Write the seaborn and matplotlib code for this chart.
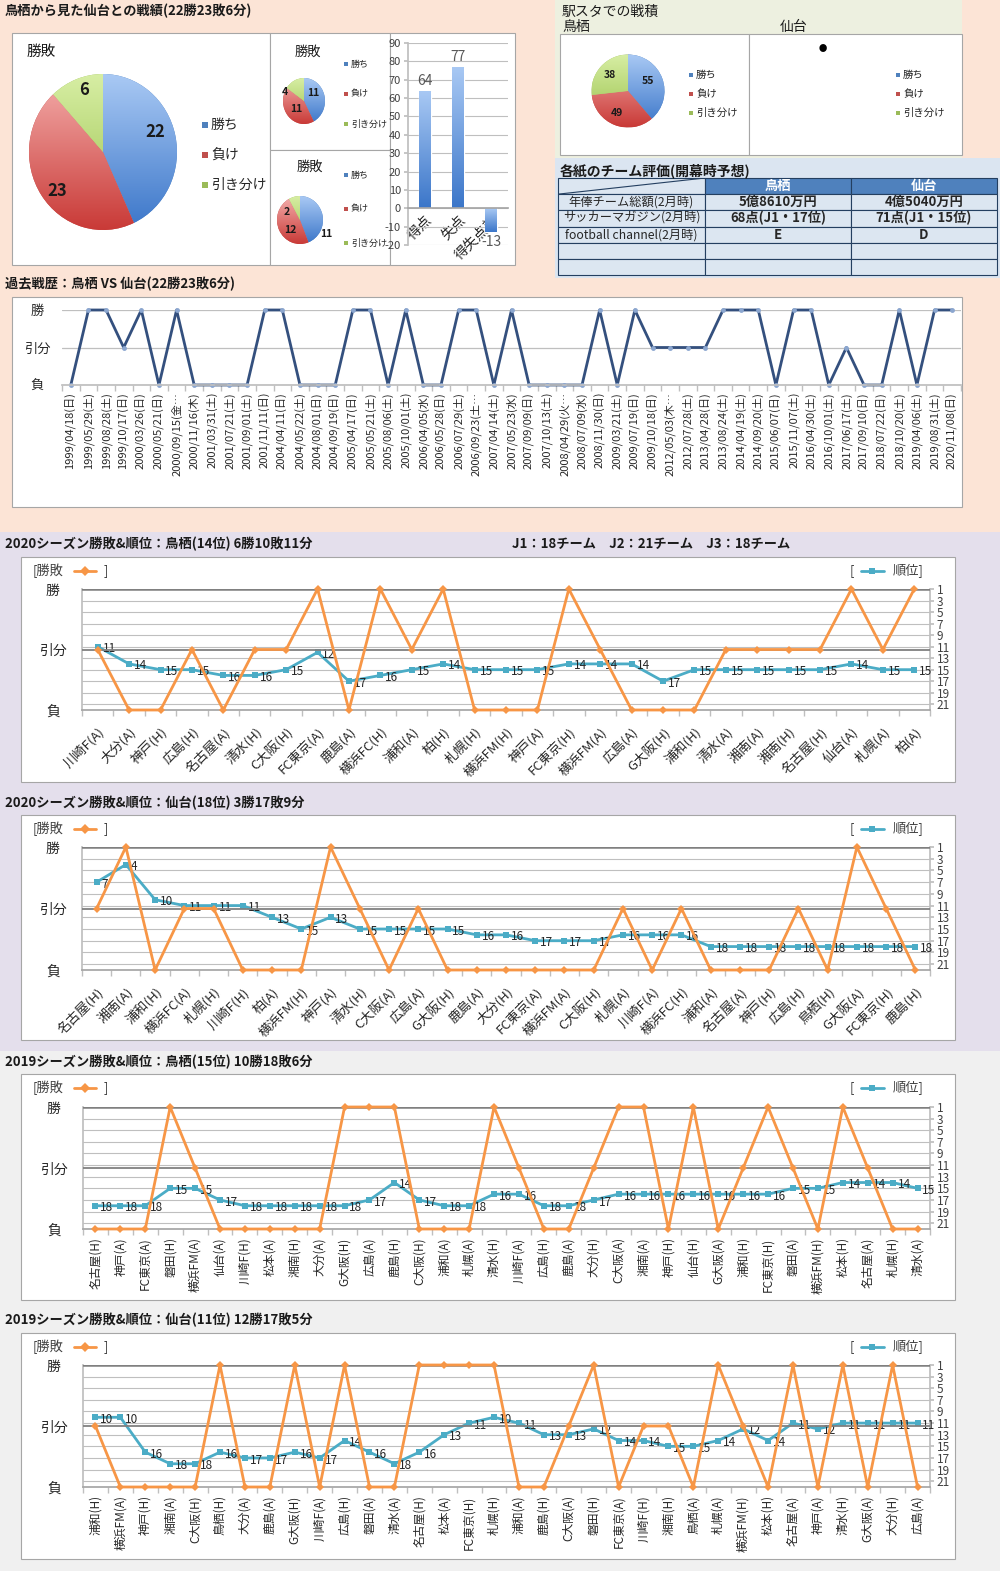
import numpy as np
import pandas as pd
import matplotlib
matplotlib.use("Agg")
import matplotlib.pyplot as plt
import seaborn as sns
from matplotlib.patches import Rectangle
from matplotlib.lines import Line2D
from matplotlib.colors import LinearSegmentedColormap

sns.set_theme(style="white")
plt.rcParams["font.family"] = ["Noto Sans CJK JP", "DejaVu Sans"]
plt.rcParams["axes.unicode_minus"] = False

W, H = 1000, 1571

# ---------------- data ----------------
wdl_labels = ["勝ち", "負け", "引き分け"]
h2h_total = [22, 23, 6]
h2h_home = [11, 11, 4]
h2h_away = [11, 12, 2]
station_tosu = [55, 49, 38]

goal_labels = ["得点", "失点", "得失点差"]
goal_values = [64, 77, -13]

table_cols = ["鳥栖", "仙台"]
table_rows = ["年俸チーム総額(2月時)", "サッカーマガジン(2月時)", "football channel(2月時)", "", ""]
table_tosu = ["5億8610万円", "68点(J1・17位)", "E", "", ""]
table_sendai = ["4億5040万円", "71点(J1・15位)", "D", "", ""]

# 1 = 勝, 0 = 引分, -1 = 負
hist_dates = [
    "1999/04/18(日)", "1999/05/29(土)", "1999/08/28(土)", "1999/10/17(日)", "2000/03/26(日)",
    "2000/05/21(日)", "2000/09/15(金…", "2000/11/16(木)", "2001/03/31(土)", "2001/07/21(土)",
    "2001/09/01(土)", "2001/11/11(日)", "2004/04/11(日)", "2004/05/22(土)", "2004/08/01(日)",
    "2004/09/19(日)", "2005/04/17(日)", "2005/05/21(土)", "2005/08/06(土)", "2005/10/01(土)",
    "2006/04/05(水)", "2006/05/28(日)", "2006/07/29(土)", "2006/09/23(土…", "2007/04/14(土)",
    "2007/05/23(水)", "2007/09/09(日)", "2007/10/13(土)", "2008/04/29(火…", "2008/07/09(水)",
    "2008/11/30(日)", "2009/03/21(土)", "2009/07/19(日)", "2009/10/18(日)", "2012/05/03(木…",
    "2012/07/28(土)", "2013/04/28(日)", "2013/08/24(土)", "2014/04/19(土)", "2014/09/20(土)",
    "2015/06/07(日)", "2015/11/07(土)", "2016/04/30(土)", "2016/10/01(土)", "2017/06/17(土)",
    "2017/09/10(日)", "2018/07/22(日)", "2018/10/20(土)", "2019/04/06(土)", "2019/08/31(土)",
    "2020/11/08(日)",
]
hist_res = [-1, 1, 1, 0, 1, -1, 1, -1, -1, -1, -1, 1, 1, -1, -1, -1, 1, 1, -1, 1, -1, -1, 1, 1, -1,
            1, -1, -1, -1, -1, 1, -1, 1, 0, 0, 0, 0, 1, 1, 1, -1, 1, 1, -1, 0, -1, -1, 1, -1, 1, 1]

t20_opp = ["川崎F(A)", "大分(A)", "神戸(H)", "広島(H)", "名古屋(A)", "清水(H)", "C大阪(H)", "FC東京(A)",
           "鹿島(A)", "横浜FC(H)", "浦和(A)", "柏(H)", "札幌(H)", "横浜FM(H)", "神戸(A)", "FC東京(H)",
           "横浜FM(A)", "広島(A)", "G大阪(H)", "浦和(H)", "清水(A)", "湘南(A)", "湘南(H)", "名古屋(H)",
           "仙台(A)", "札幌(A)", "柏(A)"]
t20_res = [0, -1, -1, 0, -1, 0, 0, 1, -1, 1, 0, 1, -1, -1, -1, 1, 0, -1, -1, -1, 0, 0, 0, 0, 1, 0, 1]
t20_rank = [11, 14, 15, 15, 16, 16, 15, 12, 17, 16, 15, 14, 15, 15, 15, 14, 14, 14, 17, 15, 15, 15, 15, 15, 14, 15, 15]

s20_opp = ["名古屋(H)", "湘南(A)", "浦和(H)", "横浜FC(A)", "札幌(H)", "川崎F(H)", "柏(A)", "横浜FM(H)",
           "神戸(A)", "清水(H)", "C大阪(A)", "広島(A)", "G大阪(H)", "鹿島(A)", "大分(H)", "FC東京(A)",
           "横浜FM(A)", "C大阪(H)", "札幌(A)", "川崎F(A)", "横浜FC(H)", "浦和(A)", "名古屋(A)", "神戸(H)",
           "広島(H)", "鳥栖(H)", "G大阪(A)", "FC東京(H)", "鹿島(H)"]
s20_res = [0, 1, -1, 0, 0, -1, -1, -1, 1, 0, -1, 0, -1, -1, -1, -1, -1, -1, 0, -1, 0, -1, -1, -1, 0, -1, 1, 0, -1]
s20_rank = [7, 4, 10, 11, 11, 11, 13, 15, 13, 15, 15, 15, 15, 16, 16, 17, 17, 17, 16, 16, 16, 18, 18, 18, 18, 18, 18, 18, 18]

t19_opp = ["名古屋(H)", "神戸(A)", "FC東京(A)", "磐田(H)", "横浜FM(A)", "仙台(A)", "川崎F(H)", "松本(A)",
           "湘南(H)", "大分(A)", "G大阪(H)", "広島(A)", "鹿島(H)", "C大阪(H)", "浦和(A)", "札幌(A)",
           "清水(H)", "川崎F(A)", "広島(H)", "鹿島(A)", "大分(H)", "C大阪(A)", "湘南(A)", "神戸(H)",
           "仙台(H)", "G大阪(A)", "浦和(H)", "FC東京(H)", "磐田(A)", "横浜FM(H)", "松本(H)", "名古屋(A)",
           "札幌(H)", "清水(A)"]
t19_res = [-1, -1, -1, 1, 0, -1, -1, -1, -1, -1, 1, 1, 1, -1, -1, -1, 1, 0, -1, -1, 0, 1, 1, -1, 1, -1, 0, 1, 0, -1, 1, 0, -1, -1]
t19_rank = [18, 18, 18, 15, 15, 17, 18, 18, 18, 18, 18, 17, 14, 17, 18, 18, 16, 16, 18, 18, 17, 16, 16, 16, 16, 16, 16, 16, 15, 15, 14, 14, 14, 15]

s19_opp = ["浦和(H)", "横浜FM(A)", "神戸(H)", "湘南(A)", "C大阪(H)", "鳥栖(H)", "大分(A)", "鹿島(A)",
           "G大阪(H)", "川崎F(A)", "広島(H)", "磐田(A)", "清水(A)", "名古屋(H)", "松本(A)", "FC東京(H)",
           "札幌(H)", "浦和(A)", "鹿島(H)", "C大阪(A)", "磐田(H)", "FC東京(A)", "川崎F(H)", "湘南(H)",
           "鳥栖(A)", "札幌(A)", "横浜FM(H)", "松本(H)", "名古屋(A)", "神戸(A)", "清水(H)", "G大阪(A)",
           "大分(H)", "広島(A)"]
s19_res = [0, -1, -1, -1, -1, 1, -1, -1, 1, -1, 1, -1, -1, 1, 1, 1, 1, -1, -1, 0, 1, -1, 0, 0, -1, 1, 0, -1, 1, -1, 1, -1, 1, -1]
s19_rank = [10, 10, 16, 18, 18, 16, 17, 17, 16, 17, 14, 16, 18, 16, 13, 11, 10, 11, 13, 13, 12, 14, 14, 15, 15, 14, 12, 14, 11, 12, 11, 11, 11, 11]

# ---------------- style ----------------
ORANGE = "#f79646"
TEAL = "#4bacc6"
NAVY = "#34507e"
PIE_FLAT = ["#4f81bd", "#c0504d", "#9bbb59"]
PIE_GRAD = [("#a9c9f4", "#3b76c9"), ("#f4aeac", "#c93a37"), ("#d7eea4", "#98c049")]
GRID = "#bfbfbf"

fig = plt.figure(figsize=(W / 100, H / 100), dpi=100)
fig.patch.set_facecolor("white")


def fr(x0, y0, x1, y1):
    return [x0 / W, 1 - y1 / H, (x1 - x0) / W, (y1 - y0) / H]


def fbox(x0, y0, x1, y1, fc="white", ec="#a6a6a6", lw=0.8, z=-1):
    fig.add_artist(Rectangle((x0 / W, 1 - y1 / H), (x1 - x0) / W, (y1 - y0) / H,
                             transform=fig.transFigure, facecolor=fc, edgecolor=ec, lw=lw, zorder=z))


def ftext(x, y, s, **kw):
    kw.setdefault("va", "center")
    kw.setdefault("color", "#1a1a1a")
    fig.text(x / W, 1 - y / H, s, **kw)


def gradient(ax, patch, c_top, c_bottom, extent):
    cmap = LinearSegmentedColormap.from_list("g", [c_top, c_bottom])
    img = np.linspace(0, 1, 128).reshape(-1, 1)
    im = ax.imshow(img, cmap=cmap, extent=extent, aspect="auto", origin="upper",
                   zorder=patch.get_zorder() + 0.1, interpolation="bilinear")
    im.set_clip_path(patch)


def draw_pie(rect_px, values, label_pos, fs):
    ax = fig.add_axes(fr(*rect_px))
    wedges, _ = ax.pie(values, startangle=90, counterclock=False, colors=PIE_FLAT,
                       wedgeprops=dict(linewidth=0))
    for w, (c1, c2) in zip(wedges, PIE_GRAD):
        gradient(ax, w, c1, c2, [-1, 1, -1, 1])
    for v, (lx, ly) in zip(values, label_pos):
        ax.text(lx, ly, str(v), ha="center", va="center", fontsize=fs,
                fontweight="bold", color="#1a1a1a", clip_on=False)
    ax.set_xlim(-1, 1)
    ax.set_ylim(-1, 1)
    ax.set_aspect("auto")
    ax.axis("off")


def legend_rows(x, ys, labels, fs, sq=5):
    for y, lab, c in zip(ys, labels, PIE_FLAT):
        fbox(x - sq / 2, y - sq / 2, x + sq / 2, y + sq / 2, fc=c, ec="none", z=3)
        ftext(x + sq / 2 + 3, y, lab, fontsize=fs, color="#262626")


# ---------------- backgrounds ----------------
fbox(0, 0, 1000, 532, fc="#fce4d6", ec="none", z=-3)
fbox(555, 0, 962, 158, fc="#edf0e0", ec="none", z=-2.5)
fbox(555, 158, 1000, 278, fc="#dbe5f1", ec="none", z=-2.5)
fbox(0, 532, 1000, 1051, fc="#e4dfec", ec="none", z=-3)
fbox(0, 1051, 1000, 1571, fc="#f0f0f0", ec="none", z=-3)

# ---------------- head-to-head pies ----------------
ftext(5, 11, "鳥栖から見た仙台との戦績(22勝23敗6分)", fontsize=9.5, fontweight="bold")
fbox(12, 33, 270, 265)
fbox(270, 33, 390, 150)
fbox(270, 150, 390, 265)
fbox(390, 33, 515, 265)

ftext(27, 52, "勝敗", fontsize=10.5)
draw_pie((29, 74, 177, 230), h2h_total, [(0.71, 0.26), (-0.62, -0.50), (-0.26, 0.79)], 12)
legend_rows(205, [125, 155, 185], wdl_labels, 10, sq=6)

ftext(295, 52, "勝敗", fontsize=9.5)
draw_pie((283, 78, 325, 124), h2h_home, [(0.42, 0.36), (-0.36, -0.36), (-0.9, 0.4)], 7.5)
legend_rows(346, [64, 94, 124], wdl_labels, 6.5, sq=4)

ftext(297, 167, "勝敗", fontsize=9.5)
draw_pie((277, 196, 323, 244), h2h_away, [(1.15, -0.6), (-0.43, -0.4), (-0.57, 0.35)], 7.5)
legend_rows(346, [175, 209, 243], wdl_labels, 6.5, sq=4)

# ---------------- goals bar chart ----------------
axb = fig.add_axes(fr(408, 43, 508, 245))
sns.barplot(x=goal_labels, y=goal_values, ax=axb, color="#5b8fd6", width=0.36, saturation=1)
for bar in list(axb.patches):
    x0, y0 = bar.get_x(), bar.get_y()
    x1, y1 = x0 + bar.get_width(), y0 + bar.get_height()
    gradient(axb, bar, "#a9c9f4", "#3b76c9", [x0, x1, min(y0, y1), max(y0, y1)])
axb.bar_label(axb.containers[0], padding=2, fontsize=10, color="#595959")
axb.set_xlim(-0.5, 2.5)
axb.set_ylim(-20, 90)
axb.set_yticks(range(-20, 91, 10))
axb.yaxis.grid(True, color=GRID, lw=0.8)
axb.set_axisbelow(True)
axb.spines["bottom"].set_position(("data", 0))
for s in ["top", "right"]:
    axb.spines[s].set_visible(False)
axb.spines["left"].set_color(GRID)
axb.spines["bottom"].set_color("#a6a6a6")
axb.tick_params(axis="y", labelsize=8, labelcolor="#404040", length=3, color=GRID, pad=2, left=True)
axb.set_xticks(range(3))
axb.set_xticklabels(goal_labels, rotation=45, ha="right", rotation_mode="anchor",
                    fontsize=10, color="#262626")
axb.tick_params(axis="x", length=0, pad=3)
axb.set_xlabel("")
axb.set_ylabel("")
axb.set_facecolor("white")

# ---------------- station record ----------------
ftext(562, 12, "駅スタでの戦積", fontsize=10)
ftext(562, 27, "鳥栖", fontsize=10)
ftext(780, 27, "仙台", fontsize=10)
fbox(560, 34, 749, 155)
fbox(749, 34, 962, 155)
draw_pie((591.5, 54.5, 664.5, 127.5), station_tosu, [(0.55, 0.27), (-0.30, -0.60), (-0.49, 0.44)], 7.5)
legend_rows(691, [75, 94, 113], wdl_labels, 7.5, sq=4)
ftext(823, 48, "●", fontsize=6, ha="center", color="black")
legend_rows(898, [75, 94, 113], wdl_labels, 7.5, sq=4)

# ---------------- evaluation table ----------------
ftext(560, 171, "各紙のチーム評価(開幕時予想)", fontsize=10, fontweight="bold")
axt = fig.add_axes(fr(558, 178, 997, 275))
axt.axis("off")
cells = [[""] + table_cols] + [[a, b, c] for a, b, c in zip(table_rows, table_tosu, table_sendai)]
tb = axt.table(cellText=cells, bbox=[0, 0, 1, 1], colWidths=[147, 146, 146], cellLoc="center")
tb.auto_set_font_size(False)
tb.set_fontsize(9.5)
for (r, c), cell in tb.get_celld().items():
    cell.set_edgecolor("#243f60")
    cell.set_linewidth(0.8)
    cell.PAD = 0.02
    if r == 0 and c > 0:
        cell.set_facecolor("#4f81bd")
        cell.get_text().set_color("white")
        cell.get_text().set_fontweight("bold")
    else:
        cell.set_facecolor("#dce6f1")
        if c > 0:
            cell.get_text().set_fontweight("bold")
        else:
            cell.get_text().set_fontsize(8.8)
axt.plot([0, 147 / 439], [5 / 6, 1], color="#243f60", lw=0.8, transform=axt.transAxes)

# ---------------- history line ----------------
ftext(5, 284, "過去戦歴：鳥栖 VS 仙台(22勝23敗6分)", fontsize=9.5, fontweight="bold")
fbox(12, 297, 962, 507)
axh = fig.add_axes(fr(62, 310, 961, 385))
hist_df = pd.DataFrame({"x": np.arange(len(hist_res)), "res": hist_res})
sns.lineplot(data=hist_df, x="x", y="res", ax=axh, color=NAVY, lw=2, marker="o", markersize=3.5,
             markerfacecolor="#8ba6cf", markeredgewidth=0, legend=False, clip_on=False)
axh.set_ylim(-1, 1)
axh.set_xlim(-0.5, len(hist_res) - 0.5)
axh.set_yticks([-1, 0, 1])
axh.set_yticklabels(["負", "引分", "勝"], fontsize=9.5)
for t in axh.get_yticklabels():
    t.set_ha("center")
axh.tick_params(axis="y", length=0, pad=18)
axh.grid(axis="y", color=GRID, lw=0.9)
axh.set_xticks(range(len(hist_dates)))
axh.set_xticklabels(hist_dates, rotation=90, fontsize=8, va="top")
axh.set_xticks(np.arange(-0.5, len(hist_res), 1), minor=True)
axh.tick_params(axis="x", which="major", length=0, pad=5)
axh.tick_params(axis="x", which="minor", length=4, color=GRID, bottom=True)
for s in ["top", "right", "left"]:
    axh.spines[s].set_visible(False)
axh.spines["bottom"].set_color(GRID)
axh.set_xlabel("")
axh.set_ylabel("")


# ---------------- season charts ----------------
def season_chart(box, plot, title_y, title, opp, res, rank, rot):
    ftext(5, title_y, title, fontsize=9.5, fontweight="bold")
    fbox(*box)
    n = len(opp)
    df = pd.DataFrame({"x": np.arange(n), "rank": rank, "res": res})
    ax = fig.add_axes(fr(*plot))
    ax2 = ax.twinx()

    # rank series (right axis)
    sns.lineplot(data=df, x="x", y="rank", ax=ax, color=TEAL, lw=2, marker="s", markersize=5,
                 markeredgewidth=0, legend=False, clip_on=False)
    for i, r in enumerate(rank):
        ax.annotate(str(r), (i, r), xytext=(3.5, -1.5), textcoords="offset points",
                    ha="left", va="center", fontsize=8.5, color="#262626")
    ax.set_ylim(22, 1)
    ax.set_yticks(range(1, 22, 2))
    ax.yaxis.tick_right()
    ax.tick_params(axis="y", labelsize=8.5, labelcolor="#404040", length=3, color=GRID, pad=2,
                   right=True, left=False, labelright=True, labelleft=False)
    ax.grid(axis="y", color=GRID, lw=0.8)
    ax.set_xlim(-0.5, n - 0.5)
    ax.set_xticks(range(n))
    if rot == 45:
        ax.set_xticklabels(opp, rotation=45, ha="right", rotation_mode="anchor", fontsize=9.5)
        ax.tick_params(axis="x", which="major", length=0, pad=11)
    else:
        ax.set_xticklabels(opp, rotation=90, va="top", fontsize=8.5)
        ax.tick_params(axis="x", which="major", length=0, pad=6)
    ax.set_xticks(np.arange(-0.5, n, 1), minor=True)
    ax.tick_params(axis="x", which="minor", length=4, color=GRID, bottom=True)
    ax.spines["top"].set_visible(False)
    for s in ["left", "right"]:
        ax.spines[s].set_color(GRID)
    ax.spines["bottom"].set_color("#a6a6a6")
    ax.set_xlabel("")
    ax.set_ylabel("")

    # result series (left axis)
    ax2.axhline(1, color="#808080", lw=1.8, zorder=0)
    ax2.axhline(0, color="#808080", lw=1.3, zorder=0)
    sns.lineplot(data=df, x="x", y="res", ax=ax2, color=ORANGE, lw=2, marker="D", markersize=4,
                 markeredgewidth=0, legend=False, clip_on=False)
    ax2.set_ylim(-1, 1)
    ax2.set_yticks([-1, 0, 1])
    ax2.set_yticklabels(["負", "引分", "勝"], fontsize=10)
    ax2.yaxis.tick_left()
    for t in ax2.get_yticklabels():
        t.set_ha("center")
    ax2.tick_params(axis="y", length=0, pad=21)
    for s in ax2.spines.values():
        s.set_visible(False)
    ax2.set_xlabel("")
    ax2.set_ylabel("")

    # series keys
    ky = box[1] + 14
    ftext(33, ky, "[勝敗", fontsize=9.5, color="#404040")
    fig.add_artist(Line2D([74 / W, 85 / W, 96 / W], [1 - ky / H] * 3, transform=fig.transFigure,
                          color=ORANGE, lw=2, marker="D", markersize=5, markevery=[1], markeredgewidth=0))
    ftext(104, ky, "]", fontsize=9.5, color="#404040")
    ftext(850, ky, "[", fontsize=9.5, color="#404040")
    fig.add_artist(Line2D([861 / W, 872 / W, 884 / W], [1 - ky / H] * 3, transform=fig.transFigure,
                          color=TEAL, lw=2, marker="s", markersize=5, markevery=[1], markeredgewidth=0))
    ftext(893, ky, "順位]", fontsize=9.5, color="#404040")


season_chart((21, 557, 955, 782), (82, 589, 930, 710), 544,
             "2020シーズン勝敗&順位：鳥栖(14位) 6勝10敗11分", t20_opp, t20_res, t20_rank, 45)
ftext(512, 544, "J1：18チーム　J2：21チーム　J3：18チーム", fontsize=9.5, fontweight="bold")
season_chart((21, 815, 955, 1040), (82, 847, 930, 970), 803,
             "2020シーズン勝敗&順位：仙台(18位) 3勝17敗9分", s20_opp, s20_res, s20_rank, 45)
season_chart((21, 1074, 955, 1300), (83, 1107, 930, 1229), 1062,
             "2019シーズン勝敗&順位：鳥栖(15位) 10勝18敗6分", t19_opp, t19_res, t19_rank, 90)
season_chart((21, 1333, 955, 1559), (83, 1365, 930, 1487), 1320,
             "2019シーズン勝敗&順位：仙台(11位) 12勝17敗5分", s19_opp, s19_res, s19_rank, 90)

fig.savefig("out.png", dpi=100)
